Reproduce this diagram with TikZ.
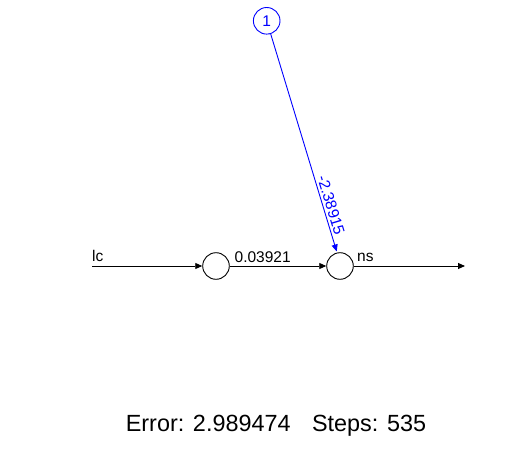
\documentclass[tikz,border=0pt]{standalone}
\usepackage{fontspec}
\setmainfont{Liberation Sans}
\usetikzlibrary{arrows.meta}
\begin{document}
\begin{tikzpicture}[x=1pt,y=-1pt,
  neuron/.style={circle,draw,line width=0.9pt,minimum size=26.6pt,inner sep=0pt},
  conn/.style={line width=0.9pt,-{Triangle[length=7pt,width=6pt]}},
  small/.style={font=\fontsize{15.5}{18}\selectfont,inner sep=0pt},
  big/.style={font=\fontsize{23.4}{28}\selectfont,inner sep=0pt}]
\useasboundingbox (0,0) rectangle (507,452);
\fill[white] (0,0) rectangle (507,452);
% neurons
\node[neuron] (h1) at (216,266) {};
\node[neuron] (h2) at (340,266) {};
\node[neuron,blue,small,text=blue] (b) at (266.7,20.8) {1};
% endpoints
\coordinate (in) at (92.3,266);
\coordinate (out) at (465,266);
\coordinate (tip) at (336.7,251.5);
% connectors
\draw[conn] (in) -- (h1);
\draw[conn] (h1) -- (h2);
\draw[conn] (h2) -- (out);
\draw[conn,blue] (b) -- (tip);
% labels
\node[small,anchor=base west] (lc) at (92,261.5) {lc};
\node[small,anchor=base west] (ns) at (357,261.5) {ns};
\node[small,anchor=base west] (w1) at (234.5,262) {0.03921};
\node[small,text=blue,rotate=-73.1] (w2) at (331,205) {-2.38915};
\node[big,anchor=base] (info) at (276,431.5) {Error: 2.989474\hspace{15pt} Steps: 535};
\end{tikzpicture}
\end{document}
